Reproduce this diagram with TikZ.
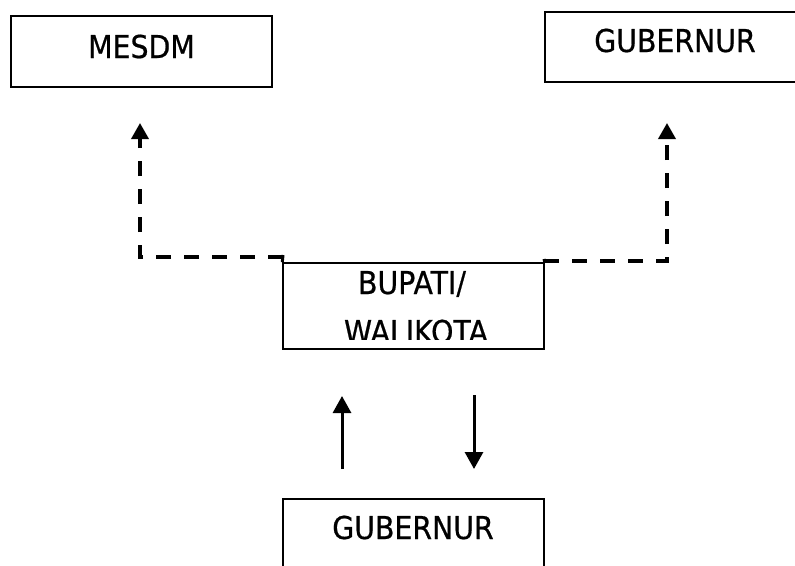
\documentclass[tikz,border=0pt]{standalone}
\usepackage{fontspec}
\setmainfont{DejaVu Sans}
\newfontfamily\lblfont[FakeStretch=0.9,FakeBold=0.6]{DejaVu Sans}
\usetikzlibrary{arrows.meta}
\begin{document}
\begin{tikzpicture}[x=1pt,y=-1pt,
  box/.style={draw, line width=1.5pt, inner sep=0pt},
  lbl/.style={font=\lblfont\fontsize{31.5}{36}\selectfont, text height=23pt, text depth=10pt, inner sep=0pt},
  dashline/.style={line width=3.5pt, dash pattern=on 15pt off 13pt, -{Triangle[width=17pt,length=16pt]}},
  solidarrow/.style={line width=3pt, -{Triangle[width=18pt,length=17pt]}},
  tick/.style={line width=3pt}]
\useasboundingbox (0,0) rectangle (795,565);
\clip (0,0) rectangle (795,565);
% boxes
\node[box, lbl, minimum width=261pt, minimum height=71pt] (mesdm) at (141.5,51.5) {MESDM};
\node[box, minimum width=280pt, minimum height=70pt] (gubtop) at (685,47) {};
\node[lbl] (gubtoptext) at (675,45.5) {GUBERNUR};
\node[box, minimum width=261pt, minimum height=86pt] (bupati) at (413.5,306) {};
\begin{scope}
  \clip (283,263) rectangle (544,339);
  \node[lbl] (bt1) at (412,287.5) {BUPATI/};
  \node[lbl] (bt2) at (416,336.5) {WALIKOTA};
\end{scope}
\node[box, minimum width=261pt, minimum height=120pt] (gubbot) at (413.5,559) {};
\node[lbl] (gubbottext) at (413,532.5) {GUBERNUR};
% dashed connectors
\coordinate (lstart) at (283,257);
\coordinate (ltip) at (140,123);
\coordinate (rstart) at (544,261);
\coordinate (rtip) at (667,123);
\draw[dashline] (lstart) -| (ltip);
\draw[dashline] (rstart) -| (rtip);
\draw[tick] (283,255) -- (bupati.north west);
\draw[tick] (544,259) -- (bupati.north east);
% solid arrows
\coordinate (ua) at (342,469);
\coordinate (ub) at (342,396);
\coordinate (da) at (474,395);
\coordinate (db) at (474,469);
\draw[solidarrow] (ua) -- (ub);
\draw[solidarrow] (da) -- (db);
\end{tikzpicture}
\end{document}
